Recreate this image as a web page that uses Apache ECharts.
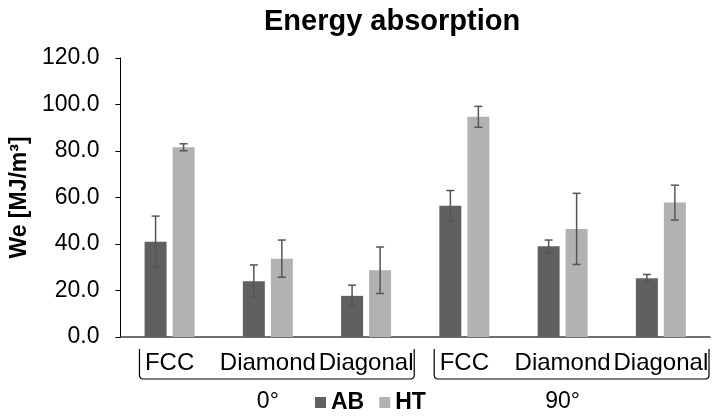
<!DOCTYPE html>
<html>
<head>
<meta charset="utf-8">
<script src="https://cdn.jsdelivr.net/npm/echarts@6/dist/echarts.min.js"></script>
<style>
html,body{margin:0;padding:0;background:#fff;}
#chart{width:714px;height:418px;}
</style>
</head>
<body>
<div id="chart"></div>
<script>
var categories = ['FCC', 'Diamond', 'Diagonal', 'FCC', 'Diamond', 'Diagonal'];
var groups = ['0°', '90°'];
var groupSize = 3;
var seriesNames = ['AB', 'HT'];
var abValues = [41.0, 24.0, 17.7, 56.5, 39.0, 25.3];
var abErrors = [11.0, 7.0, 4.6, 6.5, 2.7, 1.6];
var htValues = [81.6, 33.7, 28.7, 94.7, 46.5, 57.8];
var htErrors = [1.5, 8.0, 10.0, 4.5, 15.3, 7.5];
var yTicks = [0, 20, 40, 60, 80, 100, 120];

var FONT = '"Liberation Sans", Arial, sans-serif';
var chart = echarts.init(document.getElementById('chart'), null, {renderer: 'canvas'});

function errData(vals, errs) {
  return vals.map(function (v, i) { return [i, v - errs[i], v + errs[i]]; });
}
var BAR_W = 22, BAR_GAP = 6;
function errRender(offsetSign) {
  return function (params, api) {
    var i = api.value(0);
    var lo = api.coord([i, api.value(1)]);
    var hi = api.coord([i, api.value(2)]);
    var x = lo[0] + offsetSign * (BAR_W / 2 + BAR_GAP / 2);
    var cap = 4;
    var style = {stroke: '#555555', lineWidth: 1.5};
    return {
      type: 'group',
      children: [
        {type: 'line', shape: {x1: x, y1: lo[1], x2: x, y2: hi[1]}, style: style},
        {type: 'line', shape: {x1: x - cap, y1: lo[1], x2: x + cap, y2: lo[1]}, style: style},
        {type: 'line', shape: {x1: x - cap, y1: hi[1], x2: x + cap, y2: hi[1]}, style: style}
      ]
    };
  };
}

var option = {
  backgroundColor: '#ffffff',
  animation: false,
  title: {
    text: 'Energy absorption',
    left: 264, top: 7, padding: 0,
    textStyle: {fontFamily: FONT, fontSize: 29, fontWeight: 'bold', color: '#000'}
  },
  legend: {
    data: seriesNames,
    left: 315, top: 391, padding: 0,
    itemWidth: 11, itemHeight: 11, itemGap: 15,
    icon: 'rect',
    textStyle: {fontFamily: FONT, fontSize: 23, fontWeight: 'bold', color: '#000'}
  },
  grid: {left: 118, right: 4, top: 58, bottom: 81, containLabel: false},
  xAxis: [{
    type: 'category',
    data: categories,
    axisLine: {show: true, lineStyle: {color: '#404040', width: 1.5}},
    axisTick: {show: false},
    axisLabel: {interval: 0, margin: 14, fontFamily: FONT, fontSize: 24, color: '#000'},
    splitLine: {show: false}
  }, {
    type: 'category',
    data: groups,
    position: 'bottom',
    axisLine: {show: false},
    axisTick: {show: false},
    axisLabel: {interval: 0, margin: 53, fontFamily: FONT, fontSize: 23, color: '#000'},
    splitLine: {show: false}
  }],
  yAxis: {
    type: 'value',
    min: yTicks[0], max: yTicks[yTicks.length - 1], interval: 20,
    name: 'We [MJ/m³]',
    nameLocation: 'middle',
    nameGap: 70,
    nameRotate: 90,
    nameTextStyle: {fontFamily: FONT, fontSize: 23, fontWeight: 'bold', color: '#000'},
    axisLine: {show: true, lineStyle: {color: '#000', width: 1}},
    axisTick: {show: true, inside: false, length: 5, lineStyle: {color: '#000'}},
    axisLabel: {margin: 21, fontFamily: FONT, fontSize: 23, color: '#000',
      formatter: function (v) { return v.toFixed(1); }},
    splitLine: {show: false}
  },
  series: [
    {name: 'AB', type: 'bar', data: abValues, barWidth: BAR_W, barGap: (BAR_GAP / BAR_W * 100) + '%',
      itemStyle: {color: '#606060'}},
    {name: 'HT', type: 'bar', data: htValues, barWidth: BAR_W, barGap: (BAR_GAP / BAR_W * 100) + '%',
      itemStyle: {color: '#b2b2b2'}},
    {name: 'AB err', type: 'custom', data: errData(abValues, abErrors), renderItem: errRender(-1),
      encode: {x: 0, y: [1, 2]}, z: 5, silent: true},
    {name: 'HT err', type: 'custom', data: errData(htValues, htErrors), renderItem: errRender(1),
      encode: {x: 0, y: [1, 2]}, z: 5, silent: true}
  ]
};
chart.setOption(option);

// group brackets below the category labels, positioned from the axis scale
var c0 = chart.convertToPixel({xAxisIndex: 0}, 0);
var c1 = chart.convertToPixel({xAxisIndex: 0}, 1);
var band = c1 - c0;
var yTop = 349, yBot = 379;
var elements = [];
for (var g = 0; g < groups.length; g++) {
  var leftB = c0 + (g * groupSize) * band - band / 2;
  var rightB = leftB + groupSize * band;
  var xl = leftB + 19, xr = rightB - 1;
  elements.push({
    type: 'polyline',
    shape: {points: [[xl, yTop], [xl, yBot - 3], [xl + 1, yBot - 1], [xl + 3, yBot],
      [xr - 3, yBot], [xr - 1, yBot - 1], [xr, yBot - 3], [xr, yTop]]},
    style: {stroke: '#000', lineWidth: 1.2, fill: null},
    silent: true
  });
}
chart.setOption({graphic: {elements: elements}});
</script>
</body>
</html>
